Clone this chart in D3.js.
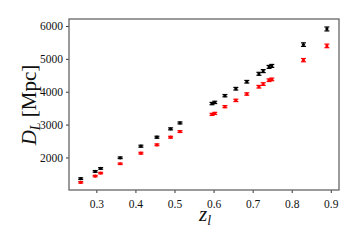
<!DOCTYPE html>
<html><head><meta charset="utf-8">
<script src="https://cdn.jsdelivr.net/npm/d3@7"></script>
<style>body{margin:0;background:#fff}svg{display:block}</style>
</head><body>
<script>
const zl = [0.260,0.297,0.311,0.361,0.414,0.455,0.490,0.514,0.596,0.603,0.629,0.657,0.685,0.716,0.727,0.742,0.749,0.830,0.890];
const dlBlack = [1355,1576,1667,1990,2343,2616,2870,3050,3640,3675,3879,4091,4303,4545,4627,4755,4785,5433,5909];
const dlRed   = [1242,1433,1525,1808,2130,2385,2616,2788,3310,3340,3545,3736,3930,4152,4233,4350,4375,4960,5394];
const errBlack= [25,25,25,25,30,30,30,30,35,35,35,40,40,45,45,45,45,55,60];
const errRed  = [22,22,22,22,27,27,27,27,32,32,32,36,36,40,40,40,40,50,55];
const xTicks = [0.3,0.4,0.5,0.6,0.7,0.8,0.9];
const yTicks = [2000,3000,4000,5000,6000];

const W=358,H=245, L=69,R=339,T=19,B=190;
const svg=d3.select("body").append("svg").attr("width",W).attr("height",H);
const x=d3.scaleLinear().domain([0.230,0.921]).range([L,R]);
const y=d3.scaleLinear().domain([1010,6212]).range([B,T]);

const font="'Liberation Serif','DejaVu Serif',serif";
const xa=svg.append("g").attr("transform",`translate(0,${B})`).call(d3.axisBottom(x).tickValues(xTicks).tickSize(3).tickSizeOuter(0).tickFormat(d3.format(".1f")));
const ya=svg.append("g").attr("transform",`translate(${L},0)`).call(d3.axisLeft(y).tickValues(yTicks).tickSize(3).tickSizeOuter(0).tickFormat(d3.format("d")));
[xa,ya].forEach(a=>{a.select(".domain").remove();a.selectAll("line").attr("stroke","#333");a.selectAll("text").attr("font-family",font).attr("font-size",11.5).attr("fill","#111");});
xa.selectAll("text").attr("dy","1.0em");
svg.append("rect").attr("x",L).attr("y",T).attr("width",R-L).attr("height",B-T).attr("fill","none").attr("stroke","#666").attr("stroke-width",1.3);

function series(vals,errs,col){
  const g=svg.append("g");
  zl.forEach((z,i)=>{
    const cx=x(z), v=vals[i], e=errs[i];
    g.append("line").attr("x1",cx).attr("x2",cx).attr("y1",y(v-e)).attr("y2",y(v+e)).attr("stroke",col).attr("stroke-width",1.2);
    [v-e,v+e].forEach(vv=>g.append("line").attr("x1",cx-2.5).attr("x2",cx+2.5).attr("y1",y(vv)).attr("y2",y(vv)).attr("stroke",col).attr("stroke-width",1.2));
    g.append("circle").attr("cx",cx).attr("cy",y(v)).attr("r",1.6).attr("fill",col);
  });
}
series(dlBlack,errBlack,"#000");
series(dlRed,errRed,"#ff0000");

svg.append("text").attr("transform",`translate(36,105) rotate(-90)`).attr("text-anchor","middle")
  .attr("font-family",font).attr("font-size",21).attr("fill","#111")
  .html('<tspan font-style="italic">D</tspan><tspan font-style="italic" font-size="14" dy="4">L</tspan><tspan dy="-4"> [Mpc]</tspan>');
svg.append("text").attr("x",205).attr("y",221).attr("text-anchor","middle")
  .attr("font-family",font).attr("font-size",21).attr("fill","#111")
  .html('<tspan font-style="italic">z</tspan><tspan font-style="italic" font-size="14" dy="4">l</tspan>');
</script>
</body></html>
